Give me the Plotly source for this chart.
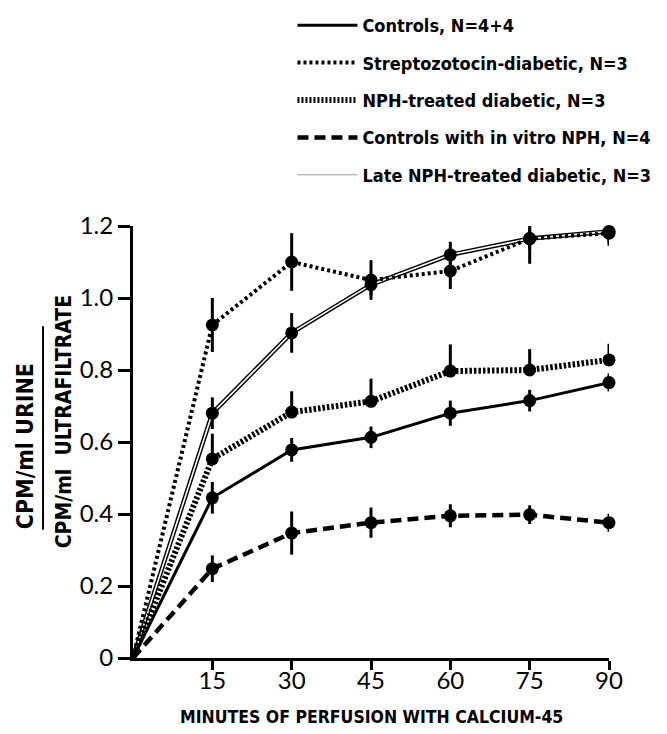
import plotly.graph_objects as go

# ---- data ----
minutes = [0, 15, 30, 45, 60, 75, 90]
x_ticks = [15, 30, 45, 60, 75, 90]
y_ticks = [0, 0.2, 0.4, 0.6, 0.8, 1.0, 1.2]
y_tick_text = ["0", "0.2", "0.4", "0.6", "0.8", "1.0", "1.2"]

controls = [0, 0.445, 0.578, 0.613, 0.680, 0.715, 0.765]
controls_err = [0, 0.044, 0.033, 0.030, 0.035, 0.030, 0.025]

strep = [0, 0.925, 1.100, 1.050, 1.075, 1.165, 1.180]
strep_err = [0, 0.075, 0.080, 0.055, 0.050, 0.070, 0.035]

nph = [0, 0.553, 0.683, 0.713, 0.797, 0.800, 0.828]
nph_err_up = [0, 0.070, 0.058, 0.063, 0.074, 0.058, 0.045]

vitro = [0, 0.248, 0.347, 0.376, 0.395, 0.398, 0.376]
vitro_err = [0, 0.037, 0.060, 0.042, 0.032, 0.026, 0.025]

late = [0, 0.680, 0.903, 1.037, 1.120, 1.165, 1.185]
late_err = [0, 0.044, 0.055, 0.030, 0.036, 0.030, 0.030]

names = ["Controls, N=4+4", "Streptozotocin-diabetic, N=3", "NPH-treated diabetic, N=3",
         "Controls with in vitro NPH, N=4", "Late NPH-treated diabetic, N=3"]

NARROW = "DejaVu Sans Condensed, Liberation Sans Narrow, sans-serif"
ROUND = "Lato, DejaVu Sans, sans-serif"

msize = [0, 13, 13, 13, 13, 13, 13]

fig = go.Figure()

# lines
fig.add_trace(go.Scatter(x=minutes, y=late, mode="lines", line=dict(color="black", width=4.5),
                         showlegend=False, hoverinfo="skip", cliponaxis=False))
fig.add_trace(go.Scatter(x=minutes, y=late, mode="lines", line=dict(color="white", width=1.6),
                         showlegend=False, hoverinfo="skip", cliponaxis=False))
fig.add_trace(go.Scatter(x=minutes, y=controls, mode="lines", line=dict(color="black", width=3),
                         showlegend=False, cliponaxis=False))
fig.add_trace(go.Scatter(x=minutes, y=strep, mode="lines",
                         line=dict(color="black", width=4, dash="3px,3px"),
                         showlegend=False, cliponaxis=False))
fig.add_trace(go.Scatter(x=minutes, y=nph, mode="lines",
                         line=dict(color="black", width=6, dash="2.5px,2px"),
                         showlegend=False, cliponaxis=False))
fig.add_trace(go.Scatter(x=minutes, y=vitro, mode="lines",
                         line=dict(color="black", width=4.5, dash="11px,6px"),
                         showlegend=False, cliponaxis=False))

# markers + error bars
def add_pts(yv, err, errminus=None):
    ey = dict(type="data", array=err, color="black", thickness=3, width=0, visible=True)
    if errminus is not None:
        ey["symmetric"] = False
        ey["arrayminus"] = errminus
    fig.add_trace(go.Scatter(x=minutes, y=yv, mode="markers",
                             marker=dict(color="black", size=msize, opacity=1, line=dict(width=0)),
                             error_y=ey, showlegend=False, cliponaxis=False))

add_pts(late, late_err)
add_pts(strep, strep_err)
add_pts(nph, nph_err_up, [0] * len(nph))
add_pts(controls, controls_err)
add_pts(vitro, vitro_err)

# legend entries
leg_styles = [
    dict(color="black", width=3),
    dict(color="black", width=4, dash="3px,3px"),
    dict(color="black", width=6, dash="2px,2px"),
    dict(color="black", width=4.5, dash="11px,6px"),
    dict(color="#999999", width=1),
]
for i, (nm, st) in enumerate(zip(names, leg_styles)):
    fig.add_trace(go.Scatter(x=[None], y=[None], mode="lines", name=nm, line=st,
                             legendgroup=f"g{i}", showlegend=True))

# y title (fraction)
fig.add_annotation(x=-0.227, y=0.49, xref="paper", yref="paper", text="<b>CPM/ml URINE</b>",
                   xanchor="center", yanchor="middle",
                   textangle=-90, showarrow=False, font=dict(family=NARROW, size=23, color="black"))
fig.add_annotation(x=-0.145, y=0.548, xref="paper", yref="paper", text="<b>CPM/ml  ULTRAFILTRATE</b>",
                   xanchor="center", yanchor="middle",
                   textangle=-90, showarrow=False, font=dict(family=NARROW, size=21, color="black"))
fig.add_shape(type="line", xref="paper", yref="paper", x0=-0.189, x1=-0.189, y0=0.297, y1=0.768,
              line=dict(color="black", width=2))

# x title
fig.add_annotation(x=0.5, y=-0.137, xref="paper", yref="paper", xanchor="center", yanchor="middle",
                   text="<b>MINUTES OF PERFUSION WITH CALCIUM-45</b>", showarrow=False,
                   font=dict(family=NARROW, size=17.5, color="black"))

# page body has an 8px margin: figure is sized/offset so the plot lands where the reference has it
fig.update_layout(
    width=659, height=726,
    margin=dict(l=125, r=58, t=218, b=76, autoexpand=False),
    paper_bgcolor="white", plot_bgcolor="white",
    showlegend=True,
    legend=dict(x=0.335, y=1.507, xanchor="left", yanchor="top", traceorder="grouped",
                tracegroupgap=11, itemwidth=60,
                font=dict(family=NARROW, size=18, color="black", weight="bold"),
                bgcolor="rgba(0,0,0,0)"),
    xaxis=dict(range=[0, 90], tickvals=x_ticks, ticks="outside", ticklen=9, tickwidth=2.5,
               tickcolor="black", showline=True, linecolor="black", linewidth=3,
               ticklabelstandoff=-10,
               showgrid=False, zeroline=False, tickfont=dict(family=ROUND, size=24, color="black")),
    yaxis=dict(range=[0, 1.2], tickvals=y_ticks, ticktext=y_tick_text, ticks="outside",
               ticklen=12, tickwidth=2.5, tickcolor="black", showline=True, linecolor="black",
               linewidth=3, showgrid=False, zeroline=False,
               tickfont=dict(family=ROUND, size=24, color="black")),
)

fig.write_html("out.html")
